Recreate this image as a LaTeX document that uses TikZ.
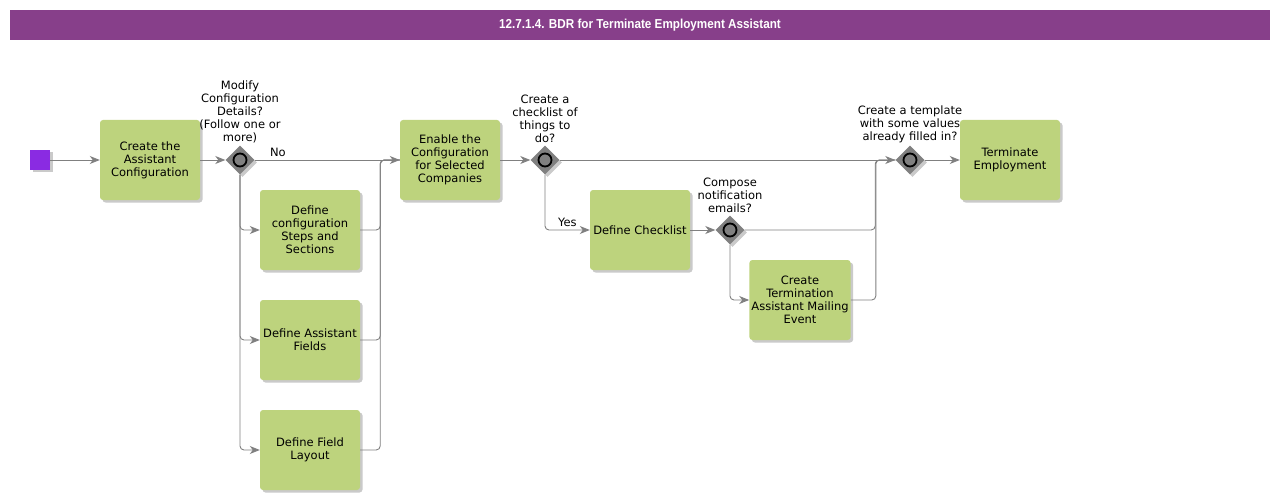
\documentclass[tikz,border=0pt]{standalone}
\usepackage{graphicx}
\usepackage{fontspec}
\setmainfont{DejaVu Sans}
\newfontfamily\titlefont{Liberation Sans}
\usetikzlibrary{positioning,shapes.geometric,shadows,arrows.meta}

\definecolor{bdrpurple}{RGB}{135,63,138}
\definecolor{taskgreen}{RGB}{189,211,125}
\definecolor{startviolet}{RGB}{138,43,226}
\definecolor{flowgray}{RGB}{128,128,128}

\tikzset{
  bpmnshadow/.style={drop shadow={shadow xshift=2.5pt, shadow yshift=-2.5pt, opacity=0.35, fill=black!60}},
  task/.style={rectangle, rounded corners=3pt, fill=taskgreen, minimum width=100pt, minimum height=80pt,
    align=center, inner sep=2pt, font=\fontsize{11.5}{13}\selectfont, bpmnshadow},
  startbox/.style={rectangle, fill=startviolet, minimum size=20pt, inner sep=0pt, bpmnshadow},
  gateway/.style={diamond, fill=flowgray, minimum size=29pt, inner sep=0pt, bpmnshadow,
    path picture={\draw[line width=1.8pt, fill=flowgray] (path picture bounding box.center) circle (6.5pt);}},
  gwlabel/.style={align=center, inner sep=0pt, font=\fontsize{11.5}{13}\selectfont},
  flowlabel/.style={font=\fontsize{11.5}{13}\selectfont, inner sep=3pt},
  flow/.style={draw=flowgray, line width=0.9pt, rounded corners=4pt, -{Stealth[length=10pt,width=8pt,inset=3pt]}},
  mergeline/.style={draw=flowgray, line width=0.9pt, rounded corners=4pt}
}

\begin{document}
\begin{tikzpicture}[x=1pt,y=-1pt]
\useasboundingbox (0,0) rectangle (1280,500);
\node[fill=bdrpurple, minimum width=1260pt, minimum height=30pt, text=white,
  font=\titlefont\bfseries\fontsize{13}{15}\selectfont] (title) at (640,25)
  {\scalebox{0.9}[1]{12.7.1.4. BDR for Terminate Employment Assistant}};

% tasks and gateways
\node[startbox] (start) at (40,160) {};
\node[task] (createconf) at (150,160) {Create the\\Assistant\\Configuration};
\node[gateway] (gwmodify) at (240,160) {};
\node[gwlabel, above=2pt of gwmodify] (lblmodify) {Modify\\Configuration\\Details?\\(Follow one or\\more)};
\node[task] (defsteps) at (310,230) {Define\\configuration\\Steps and\\Sections};
\node[task] (deffields) at (310,340) {Define Assistant\\Fields};
\node[task] (deflayout) at (310,450) {Define Field\\Layout};
\node[task] (enableconf) at (450,160) {Enable the\\Configuration\\for Selected\\Companies};
\node[gateway] (gwcheck) at (545,160) {};
\node[gwlabel, above=2pt of gwcheck] (lblcheck) {Create a\\checklist of\\things to\\do?};
\node[task] (defcheck) at (640,230) {Define Checklist};
\node[gateway] (gwmail) at (730,230) {};
\node[gwlabel, above=2pt of gwmail] (lblmail) {Compose\\notification\\emails?};
\node[task] (createmail) at (800,300) {Create\\Termination\\Assistant Mailing\\Event};
\node[gateway] (gwtemplate) at (910,160) {};
\node[gwlabel, above=2pt of gwtemplate] (lbltemplate) {Create a template\\with some values\\already filled in?};
\node[task] (terminate) at (1010,160) {Terminate\\Employment};

% flows
\draw[flow] (start) -- (createconf);
\draw[flow] (createconf) -- (gwmodify);
\draw[flow] (gwmodify) -- node[flowlabel, above, pos=0.16] {No} (enableconf);
\draw[flow] (gwmodify.south) |- (defsteps.west);
\draw[flow] (gwmodify.south) |- (deffields.west);
\draw[flow] (gwmodify.south) |- (deflayout.west);
\draw[mergeline] (defsteps.east) -- ++(20,0) |- (enableconf.west);
\draw[mergeline] (deffields.east) -- ++(20,0) |- (enableconf.west);
\draw[mergeline] (deflayout.east) -- ++(20,0) |- (enableconf.west);
\draw[flow] (enableconf) -- (gwcheck);
\draw[flow] (gwcheck) -- (gwtemplate);
\draw[flow] (gwcheck.south) |- node[flowlabel, above, pos=0.75] {Yes} (defcheck.west);
\draw[flow] (defcheck) -- (gwmail);
\draw[flow] (gwmail.south) |- (createmail.west);
\draw[mergeline] (gwmail.east) -- ++(130.5,0) |- (gwtemplate.west);
\draw[mergeline] (createmail.east) -- ++(25,0) |- (gwtemplate.west);
\draw[flow] (gwtemplate) -- (terminate);
\end{tikzpicture}
\end{document}
